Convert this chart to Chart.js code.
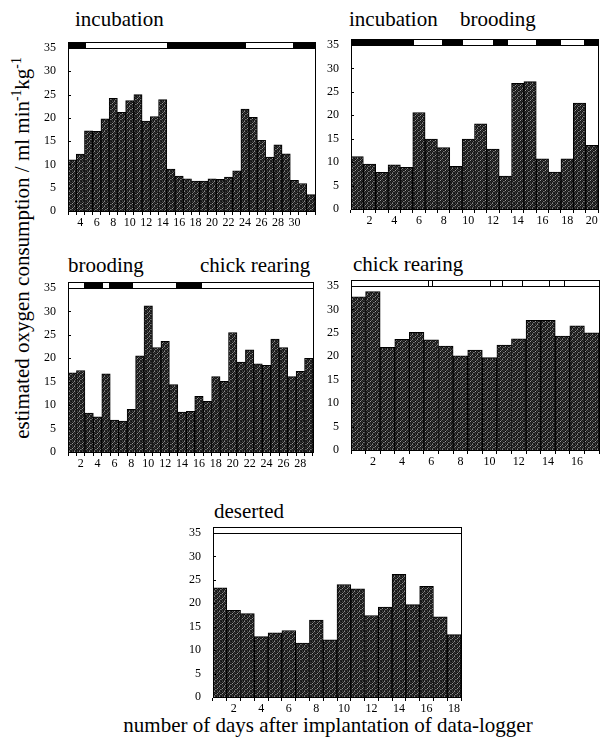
<!DOCTYPE html>
<html>
<head>
<meta charset="utf-8">
<script src="https://cdn.jsdelivr.net/npm/chart.js@4"></script>
<style>
  html, body { margin: 0; padding: 0; background: #fff; overflow: hidden; }
  #page { position: relative; width: 600px; height: 747px; }
  canvas { position: absolute; }
  .txt { position: absolute; font-family: "Liberation Serif", serif; font-size: 21px; line-height: 21px; color: #000; white-space: nowrap; }
  .txt sup { font-size: 0.65em; line-height: 0; }
</style>
</head>
<body>
<div id="page">
  <div class="txt" style="left:75px; top:9px">incubation</div>
  <div class="txt" style="left:349px; top:9px">incubation</div>
  <div class="txt" style="left:460px; top:9px">brooding</div>
  <div class="txt" style="left:68px; top:255px">brooding</div>
  <div class="txt" style="left:200px; top:255px">chick rearing</div>
  <div class="txt" style="left:353px; top:254px">chick rearing</div>
  <div class="txt" style="left:214px; top:501px">deserted</div>
  <div class="txt" style="left:328px; top:715px; transform:translateX(-50%)">number of days after implantation of data-logger</div>
  <div class="txt" style="left:22px; top:248px; transform:translate(-50%,-50%) rotate(-90deg)">estimated oxygen consumption / ml min<sup>-1</sup>kg<sup>-1</sup></div>
</div>
<script>
// --- DATOS ---
// panel 1: incubación
const dias1 = [3, 4, 5, 6, 7, 8, 9, 10, 11, 12, 13, 14, 15, 16, 17, 18, 19, 20, 21, 22, 23, 24, 25, 26, 27, 28, 29, 30, 31, 32];
const consumo1 = [11.0, 12.2, 17.2, 17.1, 19.8, 24.2, 21.2, 23.7, 25.0, 19.3, 20.3, 23.9, 9.0, 7.5, 6.9, 6.4, 6.4, 6.9, 6.8, 7.3, 8.6, 21.9, 20.1, 15.2, 11.6, 14.2, 12.3, 6.6, 5.9, 3.5];
const etiquetas1 = [4, 6, 8, 10, 12, 14, 16, 18, 20, 22, 24, 26, 28, 30];
const franja1 = [2.5, 4.6, 14.5, 24, 29.8, 32.5];
const oscuro1 = [true, false, true, false, true];

// panel 2: incubación / brooding
const dias2 = [1, 2, 3, 4, 5, 6, 7, 8, 9, 10, 11, 12, 13, 14, 15, 16, 17, 18, 19, 20];
const consumo2 = [11.2, 9.6, 7.8, 9.4, 8.9, 20.6, 14.9, 13.1, 9.1, 14.9, 18.2, 12.8, 7.0, 26.8, 27.2, 10.7, 7.9, 10.7, 22.6, 13.6];
const etiquetas2 = [2, 4, 6, 8, 10, 12, 14, 16, 18, 20];
const franja2 = [0.5, 5.5, 7.9, 9.5, 12.0, 13.1, 15.5, 17.4, 19.4, 20.5];
const oscuro2 = [true, false, true, false, true, false, true, false, true];

// panel 3: brooding / chick rearing
const dias3 = [1, 2, 3, 4, 5, 6, 7, 8, 9, 10, 11, 12, 13, 14, 15, 16, 17, 18, 19, 20, 21, 22, 23, 24, 25, 26, 27, 28, 29];
const consumo3 = [16.9, 17.4, 8.3, 7.5, 16.7, 6.8, 6.6, 9.1, 20.5, 31.2, 22.3, 23.6, 14.4, 8.5, 8.7, 11.9, 10.8, 16.1, 15.1, 25.5, 19.2, 21.8, 18.8, 18.5, 24.1, 22.3, 16.1, 17.2, 20.0];
const etiquetas3 = [2, 4, 6, 8, 10, 12, 14, 16, 18, 20, 22, 24, 26, 28];
const franja3 = [0.5, 2.35, 4.5, 5.4, 8.1, 13.3, 16.3, 29.5];
const oscuro3 = [false, true, false, true, false, true, false];

// panel 4: chick rearing
const dias4 = [1, 2, 3, 4, 5, 6, 7, 8, 9, 10, 11, 12, 13, 14, 15, 16, 17];
const consumo4 = [32.7, 33.8, 21.9, 23.6, 25.1, 23.5, 22.2, 20.1, 21.3, 19.7, 22.4, 23.7, 27.7, 27.7, 24.3, 26.5, 25.0];
const etiquetas4 = [2, 4, 6, 8, 10, 12, 14, 16];
const franja4 = [0.5, 5.8, 6.07, 10.0, 10.86, 12.2, 14.1, 15.1, 17.5];
const oscuro4 = [false, false, false, false, false, false, false, false];

// panel 5: deserted
const dias5 = [1, 2, 3, 4, 5, 6, 7, 8, 9, 10, 11, 12, 13, 14, 15, 16, 17, 18];
const consumo5 = [23.3, 18.5, 17.8, 12.9, 13.7, 14.2, 11.5, 16.4, 12.2, 24.0, 23.1, 17.4, 19.2, 26.2, 19.7, 23.6, 17.1, 13.3];
const etiquetas5 = [2, 4, 6, 8, 10, 12, 14, 16, 18];
const franja5 = [0.5, 18.5];
const oscuro5 = [false];

const ticksY = [0, 5, 10, 15, 20, 25, 30, 35];

// --- ESTILO ---
const FUENTE = '"Liberation Serif", serif';
const MARGEN = { izq: 32, arriba: 12, der: 2, abajo: 20 };
const ALTO_FRANJA = 6;

// trama punteada de las barras (oscura con motas claras)
function crearTrama() {
    const c = document.createElement('canvas');
    c.width = 5; c.height = 5;
    const g = c.getContext('2d');
    const tonos = [
        ['#111', '#444', '#1a1a1a', '#8a8a8a', '#222'],
        ['#2a2a2a', '#111', '#666', '#1a1a1a', '#333'],
        ['#1a1a1a', '#999', '#111', '#3a3a3a', '#111'],
        ['#555', '#1a1a1a', '#2a2a2a', '#111', '#777'],
        ['#222', '#333', '#111', '#5a5a5a', '#1a1a1a']
    ];
    tonos.forEach((fila, y) => fila.forEach((col, x) => { g.fillStyle = col; g.fillRect(x, y, 1, 1); }));
    return g.createPattern(c, 'repeat');
}

// franja superior + marco + marcas del eje y hacia dentro
const pluginFranja = {
    id: 'franja',
    afterDraw(chart, args, opts) {
        const { ctx, chartArea: a, scales: { x, y } } = chart;
        const d0 = opts.dias[0];
        const arriba = a.top - ALTO_FRANJA;
        ctx.save();
        ctx.lineWidth = 1;
        ctx.strokeStyle = '#000';
        for (let i = 0; i < opts.oscuro.length; i++) {
            const x0 = Math.round(x.getPixelForValue(opts.bordes[i] - d0));
            const x1 = Math.round(x.getPixelForValue(opts.bordes[i + 1] - d0));
            ctx.fillStyle = opts.oscuro[i] ? '#000' : '#fff';
            ctx.fillRect(x0, arriba, x1 - x0, ALTO_FRANJA);
            ctx.strokeRect(x0 + 0.5, arriba + 0.5, x1 - x0, ALTO_FRANJA);
        }
        ctx.strokeRect(Math.round(a.left) + 0.5, arriba + 0.5, Math.round(a.right - a.left), Math.round(a.bottom - arriba));
        ticksY.forEach(v => {
            const py = Math.round(y.getPixelForValue(v)) + 0.5;
            ctx.beginPath();
            ctx.moveTo(a.left, py);
            ctx.lineTo(a.left + 3, py);
            ctx.stroke();
        });
        ctx.restore();
    }
};

function crearPanel(dias, consumo, etiquetas, bordes, oscuro, area) {
    const canvas = document.createElement('canvas');
    const w = (area.r - area.l) + MARGEN.izq + MARGEN.der;
    const h = (area.b - area.t) + MARGEN.arriba + MARGEN.abajo;
    canvas.width = w; canvas.height = h;
    canvas.style.left = (area.l - MARGEN.izq) + 'px';
    canvas.style.top = (area.t - MARGEN.arriba) + 'px';
    document.getElementById('page').appendChild(canvas);

    new Chart(canvas, {
        type: 'bar',
        data: {
            labels: dias.map(String),
            datasets: [{
                data: consumo,
                backgroundColor: crearTrama(),
                borderColor: '#000',
                borderWidth: 1,
                barPercentage: 1,
                categoryPercentage: 1
            }]
        },
        options: {
            responsive: false,
            animation: false,
            layout: { padding: { top: MARGEN.arriba, right: MARGEN.der, left: 0, bottom: 0 } },
            plugins: { legend: { display: false }, tooltip: { enabled: false }, franja: { dias, bordes, oscuro } },
            scales: {
                x: {
                    grid: { display: true, drawOnChartArea: false, tickLength: 4, color: '#000', offset: true },
                    border: { display: true, color: '#000' },
                    ticks: {
                        autoSkip: false, maxRotation: 0, padding: 1, color: '#000',
                        font: { family: FUENTE, size: 12 },
                        callback(v) {
                            const d = Number(this.getLabelForValue(v));
                            return etiquetas.includes(d) ? String(d) : '';
                        }
                    },
                    afterFit(s) { s.height = MARGEN.abajo; }
                },
                y: {
                    min: 0, max: 35,
                    grid: { display: false },
                    border: { display: true, color: '#000' },
                    ticks: { stepSize: 5, padding: 4, color: '#000', font: { family: FUENTE, size: 12 } },
                    afterFit(s) { s.width = MARGEN.izq; }
                }
            }
        },
        plugins: [pluginFranja]
    });
}

crearPanel(dias1, consumo1, etiquetas1, franja1, oscuro1, { l: 68, r: 315, t: 47.5, b: 210.5 });
crearPanel(dias2, consumo2, etiquetas2, franja2, oscuro2, { l: 351, r: 598, t: 45, b: 209.5 });
crearPanel(dias3, consumo3, etiquetas3, franja3, oscuro3, { l: 68, r: 313, t: 288, b: 452 });
crearPanel(dias4, consumo4, etiquetas4, franja4, oscuro4, { l: 351, r: 599, t: 286, b: 450 });
crearPanel(dias5, consumo5, etiquetas5, franja5, oscuro5, { l: 213, r: 461, t: 533, b: 697 });
</script>
</body>
</html>
